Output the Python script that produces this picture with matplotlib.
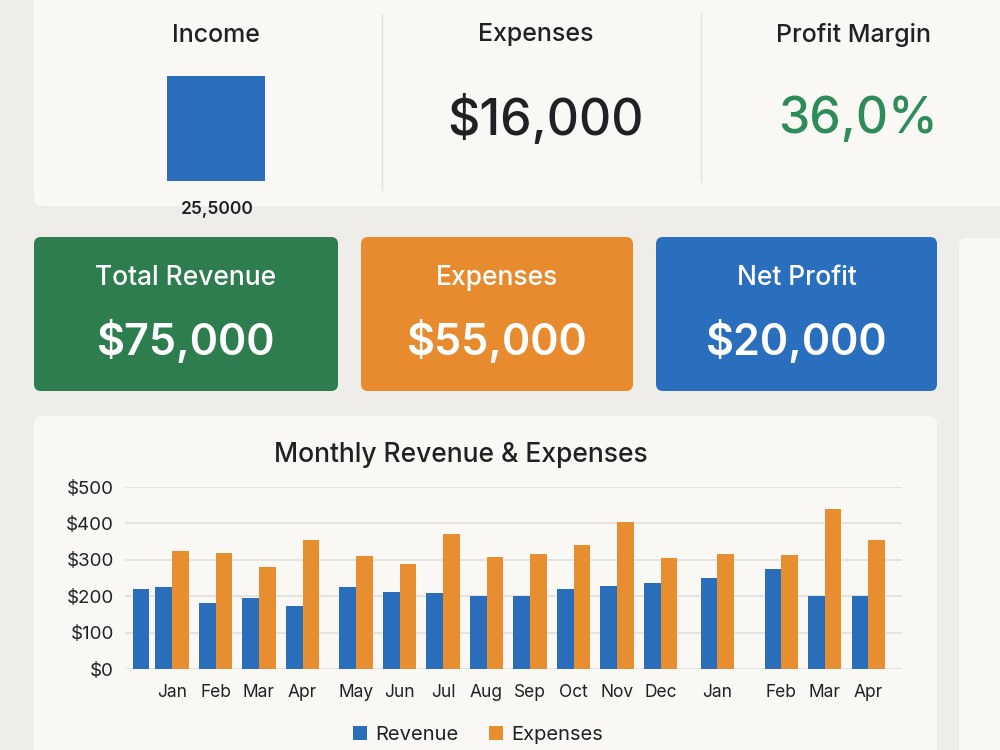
import numpy as np
import matplotlib
matplotlib.use("Agg")
import matplotlib.pyplot as plt
from matplotlib.patches import FancyBboxPatch

plt.rcParams['font.family'] = ['Inter', 'DejaVu Sans']

# ---------------- data ----------------
months = ["", "Jan", "Feb", "Mar", "Apr", "May", "Jun", "Jul", "Aug",
          "Sep", "Oct", "Nov", "Dec", "Jan", "Feb", "Mar", "Apr"]
revenue = [220, 225, 182, 194, 174, 224, 211, 210, 200,
           200, 220, 229, 237, 251, 274, 200, 201]
expenses = [np.nan, 324, 320, 280, 354, 311, 288, 371, 308,
            316, 341, 405, 306, 316, 312, 440, 354]
yticks = [0, 100, 200, 300, 400, 500]

income_value = 25500
income_label = "25,5000"
expenses_kpi = "$16,000"
margin_kpi = "36,0%"
card_titles = ["Total Revenue", "Expenses", "Net Profit"]
card_values = ["$75,000", "$55,000", "$20,000"]

# ---------------- style ----------------
BG = "#efedea"
CARD = "#faf8f5"
BLUE = "#2a6ebb"
ORANGE = "#e78e30"
GREEN = "#2e7d4e"
CARD_BLUE = "#2a6fbd"
CARD_ORANGE = "#e88b2f"
TXT = "#1f2225"

W, H = 1000, 750
fig = plt.figure(figsize=(10, 7.5), dpi=100, facecolor=BG)
bg = fig.add_axes([0, 0, 1, 1])
bg.set_xlim(0, W)
bg.set_ylim(H, 0)
bg.axis("off")
bg.set_facecolor(BG)


def card(x0, y0, x1, y1, color, r=8, z=1):
    p = FancyBboxPatch((x0 + r, y0 + r), (x1 - x0) - 2 * r, (y1 - y0) - 2 * r,
                       boxstyle=f"round,pad={r}", fc=color, ec="none", zorder=z)
    bg.add_patch(p)


# top card
card(34, -30, 1030, 206, CARD)
bg.plot([382, 382], [14, 190], color="#e3e1dd", lw=1, zorder=2)
bg.plot([701, 701], [14, 182], color="#e3e1dd", lw=1, zorder=2)
for x, t in [(216, "Income"), (536, "Expenses"), (853, "Profit Margin")]:
    bg.text(x, 35, t, ha="center", va="center", fontsize=18, fontweight="medium",
            color=TXT, zorder=3)
bg.text(545, 120, expenses_kpi, ha="center", va="center", fontsize=36,
        fontweight="medium", color=TXT, zorder=3)
bg.text(858, 120, margin_kpi, ha="center", va="center", fontsize=36,
        fontweight="medium", color="#2e8b5a", zorder=3)
bg.text(217, 209, income_label, ha="center", va="center", fontsize=12.5,
        fontweight="semibold", color=TXT, zorder=3)

# income mini bar
ax_inc = fig.add_axes([167 / W, 1 - 181 / H, 98 / W, 105 / H])
ax_inc.bar([0], [income_value], width=1.0, color=BLUE)
ax_inc.set_xlim(-0.5, 0.5)
ax_inc.set_ylim(0, income_value)
ax_inc.axis("off")

# KPI cards
card_boxes = [(34, 237, 338), (361, 237, 633), (656, 237, 937)]
card_cols = [GREEN, CARD_ORANGE, CARD_BLUE]
for (x0, y0, x1), col, t, v in zip(card_boxes, card_cols, card_titles, card_values):
    card(x0, y0, x1, 391, col, r=7)
    cx = (x0 + x1) / 2
    bg.text(cx, 278, t, ha="center", va="center", fontsize=19, fontweight="medium",
            color="white", zorder=3)
    bg.text(cx, 342, v, ha="center", va="center", fontsize=31, fontweight="semibold",
            color="white", zorder=3)

# right faint card
card(959, 238, 1040, 800, CARD)

# chart card
card(34, 416, 937, 800, CARD)
bg.text(461, 455, "Monthly Revenue & Expenses", ha="center", va="center",
        fontsize=19, fontweight="medium", color=TXT, zorder=3)

# ---------------- bar chart ----------------
unit = 43.5          # px per group step
bw = 0.38            # bar width (group units)
gaps = {4: 0.23, 12: 0.30, 13: 0.48}   # extra space after these group indices
lead = -0.52
pos = [lead, 0.0]
for i in range(2, len(months)):
    pos.append(pos[-1] + 1 + gaps.get(i - 1, 0))
pos = np.array(pos)

ax_l, ax_r, ax_b, ax_t = 125, 902, 669, 487
ax = fig.add_axes([ax_l / W, 1 - ax_b / H, (ax_r - ax_l) / W, (ax_b - ax_t) / H])
ax.set_facecolor("none")
x_left = -(172 - ax_l) / unit
ax.set_xlim(x_left, x_left + (ax_r - ax_l) / unit)
ax.set_ylim(0, 500)

ax.bar(pos - bw / 2, revenue, width=bw, color=BLUE, zorder=3, label="Revenue")
ax.bar(pos + bw / 2, expenses, width=bw, color=ORANGE, zorder=3, label="Expenses")

ax.set_yticks(yticks)
ax.set_yticklabels([f"${v}" for v in yticks])
ax.yaxis.grid(True, color="#e2e0dc", lw=1.2, zorder=0)
ax.set_xticks(pos[1:])
ax.set_xticklabels(months[1:])
ax.tick_params(axis="both", length=0, colors=TXT)
ax.tick_params(axis="x", pad=11, labelsize=12.5)
ax.tick_params(axis="y", pad=8, labelsize=13.5)
for s in ax.spines.values():
    s.set_visible(False)

leg = fig.legend(handles=ax.containers, labels=["Revenue", "Expenses"],
                 loc="center", bbox_to_anchor=(478 / W, 1 - 735 / H), ncol=2,
                 frameon=False, fontsize=14.5, handlelength=0.7, handleheight=0.7,
                 columnspacing=1.55, handletextpad=0.4)
for t in leg.get_texts():
    t.set_color(TXT)

fig.savefig("out.png", dpi=100, facecolor=BG)
